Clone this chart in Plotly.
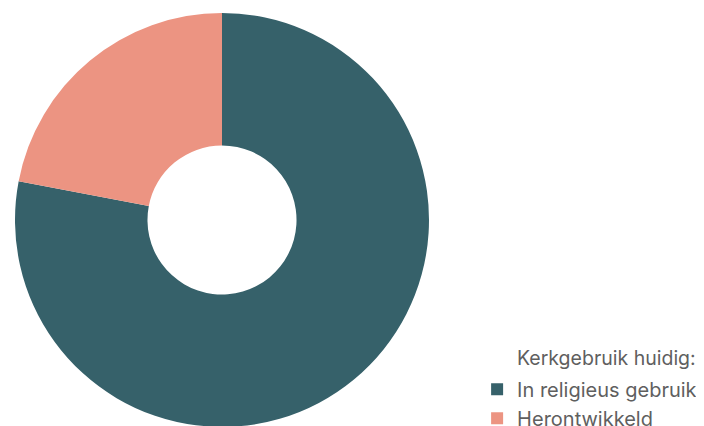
import plotly.graph_objects as go

labels = ["In religieus gebruik", "Herontwikkeld"]
values = [78, 22]
colors = ["#36616a", "#ec9482"]
legend_title = "Kerkgebruik huidig:"

fig = go.Figure(go.Pie(
    labels=labels, values=values, hole=0.36, sort=False, direction="clockwise",
    rotation=0, marker=dict(colors=colors, line=dict(width=0)),
    textinfo="none", hoverinfo="label+percent",
    domain=dict(x=[0, 414/697], y=[7/426, 421/426]),
))
fig.update_layout(
    width=704, height=426,
    margin=dict(l=7, r=0, t=0, b=0, autoexpand=False),
    paper_bgcolor="white", plot_bgcolor="white",
    font=dict(family="Inter", size=20, color="#5f5f5f"),
    legend=dict(
        x=0.663, xanchor="left", y=0.151, yanchor="top",
        font=dict(size=20, color="#5f5f5f"),
        itemwidth=30, tracegroupgap=0,
        bgcolor="rgba(0,0,0,0)",
    ),
    showlegend=True,
    annotations=[dict(
        text=legend_title, xref="paper", yref="paper",
        x=0.717, y=0.178, xanchor="left", yanchor="middle",
        showarrow=False, font=dict(size=19.5, color="#5f5f5f"),
    )],
)
fig.write_html("out.html")
